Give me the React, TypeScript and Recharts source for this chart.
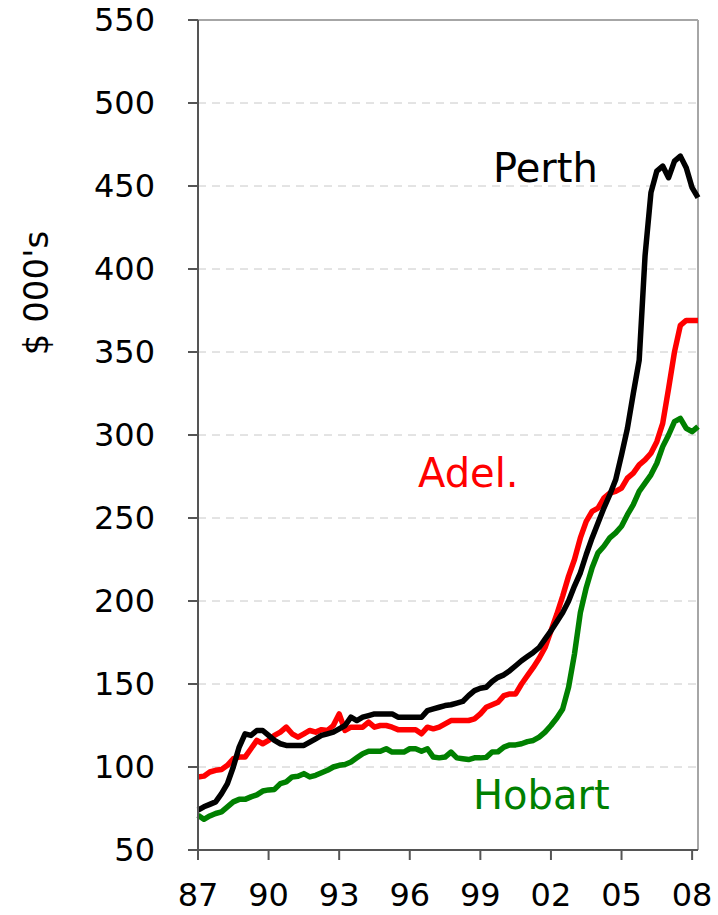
import { CartesianGrid, Line, LineChart, ReferenceLine, XAxis, YAxis } from "recharts";

// quarterly median house prices, $000's, 1987 Q1 .. 2008 Q2
const PERTH = [
  74, 76, 77.5, 79, 84, 90, 100, 112, 120, 119, 122, 122, 119, 116, 114, 113, 113, 113, 113, 115,
  117, 119, 120, 121, 123, 125, 130, 128, 130, 131, 132, 132, 132, 132, 130, 130, 130, 130, 130, 134,
  135, 136, 137, 137.5, 138.5, 139.5, 143, 146, 147.4, 148, 151.5, 154, 155.5, 158, 161, 164, 166.5, 169, 172, 177,
  182, 187.5, 193, 200, 209, 217, 228, 238, 247, 256, 264, 273, 288, 304, 325, 345, 408, 446, 459, 462,
  455, 465, 468, 461, 449, 443,
];

const ADELAIDE = [
  94, 94.5, 97, 98, 98.5, 101, 105, 106, 106, 111, 116, 114, 116, 119, 121, 124, 120, 118, 120, 122,
  121, 122.5, 122, 125, 132, 122, 124, 124, 124, 127, 124, 125, 125, 124, 122.5, 122.5, 122.5, 122.5, 120, 124,
  123, 124, 126, 128, 128, 128, 128, 129, 132, 136, 137.5, 139, 143, 144, 144, 150, 155, 160, 165.5, 172,
  182, 192, 203, 215, 225, 238, 248, 254, 256, 262, 265, 266, 268, 274, 277, 282, 285, 289, 296, 307,
  328, 350, 366, 369, 369, 369,
];

const HOBART = [
  71, 68.5, 70.5, 72, 73, 76, 79, 80.5, 80.5, 82, 83.2, 85.5, 86.2, 86.5, 90, 91, 94, 94.4, 96, 94,
  95, 96.5, 98, 100, 101, 101.5, 103, 105.5, 108, 109.5, 109.5, 109.5, 111, 109, 109, 109, 111, 111, 109.5, 111,
  106, 105.5, 106, 109, 105.5, 105, 104.5, 105.5, 105.5, 105.8, 109, 109.2, 112, 113.3, 113.3, 114, 115.3, 116, 118, 121,
  125, 129.5, 135, 148, 168, 193, 208, 220, 229, 233, 238, 241, 245, 252, 258, 266, 271, 276, 283, 293,
  300, 308, 310, 304, 302, 305,
];

const X_TICK_LABELS = ["87", "90", "93", "96", "99", "02", "05", "08"];
const Y_TICKS = [50, 100, 150, 200, 250, 300, 350, 400, 450, 500, 550];

const FONT = "'DejaVu Sans', Verdana, sans-serif";

const data = PERTH.map((perth, i) => ({
  q: i,
  perth,
  adelaide: ADELAIDE[i],
  hobart: HOBART[i],
}));

const xTicks = X_TICK_LABELS.map((_, i) => i * 12);

export default function App() {
  return (
    <div style={{ position: "absolute", left: 0, top: 0, width: 718, height: 915, background: "#fff" }}>
      <LineChart width={718} height={915} data={data} margin={{ top: 20, right: 20, left: 0, bottom: 0 }}>
        <CartesianGrid horizontal vertical={false} stroke="#c8c8c8" strokeDasharray="8 6" />
        <XAxis
          dataKey="q"
          type="number"
          domain={[0, PERTH.length - 1]}
          ticks={xTicks}
          tickFormatter={(v) => X_TICK_LABELS[Math.round(v / 12)]}
          height={65}
          tickSize={10}
          tickMargin={23}
          stroke="#555"
          strokeWidth={2}
          tick={{ fill: "#000", fontSize: 32, fontFamily: FONT }}
          interval={0}
        />
        <YAxis
          type="number"
          domain={[50, 550]}
          ticks={Y_TICKS}
          width={198}
          tickSize={10}
          tickMargin={33}
          stroke="#555"
          strokeWidth={2}
          tick={{ fill: "#000", fontSize: 32, fontFamily: FONT }}
          interval={0}
        />
        <ReferenceLine y={550} stroke="#a6a6a6" strokeWidth={2} />
        <ReferenceLine x={PERTH.length - 1} stroke="#a6a6a6" strokeWidth={2} />
        <Line dataKey="hobart" stroke="#008000" strokeWidth={5.5} dot={false} isAnimationActive={false} strokeLinejoin="round" />
        <Line dataKey="adelaide" stroke="#ff0000" strokeWidth={5.5} dot={false} isAnimationActive={false} strokeLinejoin="round" />
        <Line dataKey="perth" stroke="#000" strokeWidth={5.5} dot={false} isAnimationActive={false} strokeLinejoin="round" />
      </LineChart>
      <svg
        width={718}
        height={915}
        style={{ position: "absolute", left: 0, top: 0, pointerEvents: "none" }}
        fontFamily={FONT}
      >
        <text x={48} y={293} fontSize={34} textAnchor="middle" transform="rotate(-90 48 293)" fill="#000">
          $ 000's
        </text>
        <text x={493} y={182} fontSize={40} fill="#000">
          Perth
        </text>
        <text x={418} y={487} fontSize={40} fill="#ff0000">
          Adel.
        </text>
        <text x={473} y={809} fontSize={40} fill="#008000">
          Hobart
        </text>
      </svg>
    </div>
  );
}
